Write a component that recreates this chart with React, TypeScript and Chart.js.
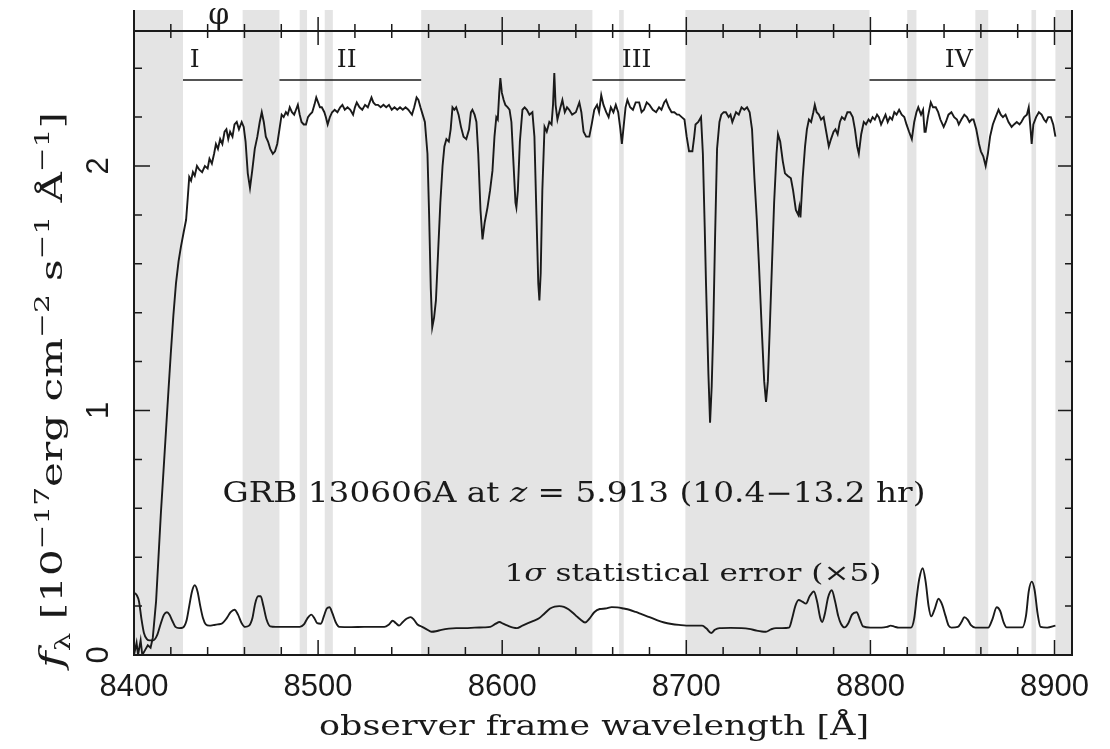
import React, { useEffect, useRef } from 'react';
import { Chart, registerables } from 'chart.js';

Chart.register(...registerables);

// ---- data ----
const fluxWave = [
  8400, 8401.4, 8402.2, 8403.6, 8404.5, 8406, 8407.5, 8409, 8410.2, 8412, 8413.3, 8414.6, 8416, 8417.4, 8418.7,
  8420, 8421.4, 8422.8, 8424.2, 8425.5, 8427, 8428.3, 8429.2, 8430, 8431, 8432, 8433, 8434.2, 8435.5, 8437,
  8438.5, 8440, 8441, 8442.3, 8443.5, 8444.5, 8445.6, 8446.8, 8448, 8449.2, 8450.2, 8451.2, 8452.2, 8453.5,
  8454.6, 8455.8, 8457, 8458.5, 8459.6, 8460.6, 8461.8, 8463, 8464.2, 8465.6, 8467, 8468.3, 8469.4, 8470.5,
  8471.6, 8472.8, 8474, 8475.4, 8476.6, 8477.8, 8479, 8480.2, 8481.3, 8482.5, 8483.5, 8484.6, 8485.8, 8487,
  8488, 8489, 8490, 8491, 8492.2, 8493.4, 8494.5, 8495.5, 8496.8, 8498, 8499, 8500, 8501, 8502, 8503.4,
  8504.2, 8505.2, 8506.4, 8507.6, 8509, 8510.5, 8512, 8513.2, 8514.5, 8516, 8517.5, 8519, 8520, 8521, 8522.5,
  8524, 8525.5, 8527, 8528, 8529, 8530, 8531.2, 8532.5, 8534, 8535.5, 8537, 8538.5, 8540, 8541.5, 8543,
  8544.5, 8546, 8547.5, 8549, 8550, 8551, 8552.2, 8553.5, 8554.5, 8555.6, 8556.8, 8558, 8559.4, 8560.3,
  8561.2, 8562, 8563, 8564, 8565.2, 8566.4, 8567.6, 8568.6, 8569.7, 8571, 8572, 8573, 8574, 8575, 8576.3,
  8577.6, 8579, 8580.5, 8582, 8583, 8583.8, 8585, 8586, 8587, 8588.2, 8589.3, 8590.5, 8592, 8593.4, 8594.7,
  8595.8, 8596.8, 8597.6, 8598.4, 8599, 8599.8, 8600.8, 8601.7, 8603, 8604, 8605, 8606.2, 8607.2, 8607.7,
  8608.5, 8609.6, 8611, 8612.2, 8613.4, 8614.8, 8616.4, 8617.5, 8618.6, 8619.6, 8620.2, 8620.9, 8621.8, 8623,
  8624.2, 8625.6, 8626.8, 8627.6, 8628.3, 8629, 8630, 8631.3, 8632.7, 8634, 8635.2, 8636.4, 8638, 8640,
  8641.9, 8643, 8644.2, 8645.6, 8647.3, 8648.6, 8650, 8651.5, 8652.6, 8653.8, 8655, 8656.5, 8657.8, 8659,
  8660.4, 8661.7, 8663, 8664.2, 8665, 8665.8, 8667, 8668, 8669.5, 8671, 8672.5, 8674.4, 8675.7, 8677,
  8678.5, 8680, 8681.8, 8683.6, 8685.2, 8686.5, 8688, 8689, 8690.5, 8692, 8693.5, 8695, 8696, 8697.5, 8699,
  8700.2, 8701.5, 8703.3, 8704.3, 8705, 8706.5, 8708, 8709, 8710, 8710.7, 8712, 8712.9, 8713.8, 8714.6,
  8715.6, 8716.7, 8718, 8719, 8720.3, 8721.5, 8723, 8724, 8725, 8726, 8727, 8728.5, 8730, 8731.5, 8733,
  8734.4, 8735.7, 8737, 8738.3, 8739.5, 8741, 8742.3, 8743.3, 8744.3, 8745.4, 8746.5, 8747.7, 8749, 8749.8,
  8751, 8752.4, 8753.6, 8755, 8756.8, 8758, 8759.5, 8760.8, 8761.4, 8762, 8763.2, 8764.5, 8765.5, 8766.6,
  8767.8, 8769, 8769.8, 8770.8, 8772, 8773.2, 8774.6, 8776, 8777.4, 8778.6, 8780, 8781, 8782.2, 8783.4,
  8784.5, 8786, 8787.5, 8789, 8790.4, 8791.6, 8792.8, 8793.7, 8795, 8796.4, 8797.6, 8799, 8800, 8801.2,
  8802.4, 8803.6, 8804.6, 8805.8, 8807, 8808.2, 8809.4, 8810.6, 8811.8, 8813, 8814.2, 8815.6, 8817, 8818.4,
  8819.6, 8821, 8822.5, 8823.8, 8825, 8826, 8827.5, 8828.6, 8829.4, 8830, 8831.2, 8832.8, 8834, 8835.5,
  8836.8, 8838, 8839.8, 8841, 8842.4, 8844, 8845.5, 8847, 8848, 8849.4, 8851, 8852.4, 8853.8, 8855, 8856,
  8857.5, 8859, 8860, 8861.3, 8862.6, 8863.8, 8865, 8866.5, 8868, 8869.6, 8870.8, 8872, 8873.4, 8875, 8876.7,
  8878, 8879.5, 8881, 8882, 8883.5, 8885, 8886, 8887, 8887.6, 8888.5, 8890, 8891.5, 8893, 8894.3, 8895.4,
  8896.6, 8898, 8899.3, 8900.5,
];
const fluxVal = [
  0.0, 0.05, 0.0, 0.06, 0.0, 0.02, 0.04, 0.03, 0.07, 0.22, 0.4, 0.58, 0.75, 0.92, 1.08,
  1.235, 1.39, 1.52, 1.61, 1.67, 1.73, 1.78, 1.87, 1.955, 1.94, 1.975, 1.96, 2.0, 1.985, 1.975,
  2.0, 1.99, 2.03, 2.01, 2.05, 2.09, 2.07, 2.11, 2.09, 2.14, 2.15, 2.11, 2.14, 2.12,
  2.17, 2.18, 2.15, 2.18, 2.16, 2.1, 1.97, 1.91, 1.98, 2.07, 2.12, 2.18, 2.22, 2.18,
  2.12, 2.1, 2.07, 2.05, 2.06, 2.09, 2.15, 2.21, 2.2, 2.22, 2.21, 2.24, 2.22, 2.21,
  2.23, 2.25, 2.21, 2.18, 2.17, 2.17, 2.2, 2.21, 2.22, 2.25, 2.28, 2.26, 2.24, 2.24, 2.22,
  2.2, 2.17, 2.2, 2.22, 2.23, 2.22, 2.24, 2.25, 2.23, 2.24, 2.23, 2.21, 2.24, 2.26, 2.24,
  2.23, 2.25, 2.24, 2.26, 2.28, 2.26, 2.25, 2.25, 2.24, 2.25, 2.24, 2.25, 2.23, 2.24, 2.23,
  2.24, 2.23, 2.24, 2.23, 2.22, 2.21, 2.24, 2.28, 2.27, 2.24, 2.21, 2.18, 2.05, 1.8,
  1.5, 1.34, 1.38, 1.45, 1.65, 1.85, 2.0, 2.08, 2.11, 2.1, 2.15, 2.24, 2.23, 2.24, 2.21,
  2.16, 2.12, 2.11, 2.15, 2.22, 2.23, 2.21, 2.18, 2.05, 1.82, 1.7, 1.77, 1.83, 1.9, 1.98,
  2.12, 2.2, 2.19, 2.3, 2.36, 2.3, 2.27, 2.25, 2.24, 2.23, 2.18, 2.0, 1.85, 1.83,
  1.9, 2.1, 2.23, 2.24, 2.23, 2.21, 2.22, 2.12, 1.8, 1.52, 1.45, 1.56, 1.9, 2.16,
  2.14, 2.18, 2.17, 2.25, 2.38, 2.25, 2.19, 2.23, 2.27, 2.22, 2.24, 2.23, 2.21, 2.22,
  2.26, 2.22, 2.14, 2.12, 2.12, 2.17, 2.23, 2.25, 2.22, 2.29, 2.25, 2.22, 2.2, 2.24,
  2.22, 2.25, 2.22, 2.15, 2.09, 2.15, 2.24, 2.27, 2.24, 2.23, 2.26, 2.26, 2.22, 2.23,
  2.26, 2.25, 2.23, 2.22, 2.24, 2.23, 2.26, 2.27, 2.24, 2.22, 2.22, 2.21, 2.21, 2.2, 2.19,
  2.12, 2.06, 2.06, 2.12, 2.17, 2.18, 2.2, 2.05, 1.75, 1.52, 1.15, 0.95, 1.1, 1.32,
  1.7, 2.07, 2.18, 2.21, 2.22, 2.22, 2.2, 2.21, 2.18, 2.2, 2.22, 2.21, 2.24, 2.23, 2.24,
  2.22, 2.15, 1.95, 1.78, 1.59, 1.33, 1.12, 1.035, 1.12, 1.35, 1.59, 1.85, 2.05, 2.13,
  2.1, 2.02, 1.97, 1.96, 1.95, 1.9, 1.82, 1.8, 1.83, 1.79, 1.95, 2.08, 2.15, 2.19,
  2.18, 2.22, 2.25, 2.22, 2.21, 2.19, 2.2, 2.14, 2.08, 2.11, 2.14, 2.15, 2.13, 2.18,
  2.2, 2.19, 2.22, 2.22, 2.2, 2.15, 2.08, 2.05, 2.13, 2.18, 2.17, 2.19, 2.18, 2.2,
  2.19, 2.21, 2.2, 2.17, 2.19, 2.21, 2.18, 2.2, 2.19, 2.22, 2.21, 2.23, 2.21, 2.2,
  2.17, 2.14, 2.11, 2.18, 2.22, 2.24, 2.21, 2.23, 2.14, 2.14, 2.2, 2.26, 2.24, 2.24,
  2.22, 2.19, 2.16, 2.18, 2.21, 2.22, 2.2, 2.19, 2.17, 2.19, 2.21, 2.2, 2.18, 2.19, 2.19,
  2.15, 2.09, 2.06, 2.04, 2.0, 2.05, 2.12, 2.17, 2.2, 2.23, 2.21, 2.2, 2.21, 2.18, 2.16,
  2.17, 2.18, 2.17, 2.18, 2.2, 2.21, 2.24, 2.15, 2.09, 2.17, 2.2, 2.22, 2.21, 2.19, 2.18,
  2.2, 2.2, 2.17, 2.12,
];
const errWave = [
  8400, 8401.5, 8402.7, 8404, 8405.4, 8407, 8408.5, 8410.5, 8412.5, 8414.6, 8416.3, 8417.9, 8419.3, 8420.8,
  8422.5, 8424.5, 8426.5, 8428.5, 8430, 8431.5, 8433, 8434.5, 8436, 8437.5, 8439, 8441, 8443, 8445.5, 8448,
  8450.3, 8452.5, 8454.6, 8456.5, 8458.5, 8460.3, 8462.5, 8464.3, 8465.8, 8467.4, 8468.8, 8470.3, 8472, 8474,
  8477, 8480, 8485, 8490, 8492.3, 8494.2, 8496.3, 8498, 8499.5, 8501.5, 8503.2, 8504.7, 8506.2, 8507.8,
  8509.5, 8511.5, 8518, 8525, 8531, 8536, 8538.5, 8540.5, 8542.3, 8544, 8546, 8548, 8550.2, 8552, 8554,
  8556.5, 8559, 8561.6, 8564, 8567, 8571, 8575, 8580, 8585, 8590, 8593.5, 8596.5, 8598.5, 8600.5, 8603,
  8606, 8608, 8611, 8614, 8617, 8620, 8623, 8626, 8628.5, 8631, 8633.5, 8636, 8638.5, 8640.5, 8642.5, 8645,
  8647.5, 8650, 8653, 8656, 8659.5, 8662.5, 8666, 8669, 8672.5, 8676, 8680, 8684, 8688, 8692, 8696, 8700,
  8704, 8708.6, 8711, 8713.5, 8715.5, 8718, 8724, 8730, 8734, 8738, 8741, 8743.2, 8746, 8748.7, 8752,
  8755.8, 8757.5, 8759.2, 8761, 8763, 8765, 8767, 8769.3, 8771, 8772.8, 8773.8, 8775.3, 8777, 8779, 8780.8,
  8782.5, 8784, 8786, 8788, 8790, 8792.5, 8794.3, 8796, 8800, 8806, 8809, 8811, 8813, 8815.4, 8822, 8823.8,
  8825.2, 8826.5, 8828.4, 8830, 8831.6, 8833, 8835, 8837, 8839, 8840.8, 8842.5, 8844, 8847.5, 8849.5, 8851,
  8852.8, 8854.6, 8857, 8864, 8866.2, 8868.6, 8870.5, 8872.3, 8874, 8882.5, 8884.5, 8886, 8887.6, 8889.2,
  8890.8, 8892.4, 8896, 8900.5,
];
const errVal = [
  0.255, 0.245, 0.22, 0.15, 0.09, 0.065, 0.06, 0.06, 0.08, 0.13, 0.165, 0.175, 0.165, 0.14,
  0.115, 0.11, 0.112, 0.14, 0.2, 0.26, 0.285, 0.26, 0.2, 0.15, 0.125, 0.12, 0.122, 0.125, 0.13,
  0.15, 0.175, 0.185, 0.165, 0.13, 0.115, 0.12, 0.15, 0.21, 0.24, 0.24, 0.2, 0.145, 0.117,
  0.115, 0.115, 0.115, 0.115, 0.125, 0.15, 0.165, 0.15, 0.13, 0.128, 0.16, 0.19, 0.195, 0.17,
  0.135, 0.115, 0.114, 0.115, 0.115, 0.115, 0.125, 0.14, 0.13, 0.12, 0.135, 0.148, 0.155, 0.145, 0.125,
  0.115, 0.105, 0.095, 0.097, 0.103, 0.108, 0.11, 0.11, 0.112, 0.113, 0.115, 0.128, 0.135, 0.128, 0.12,
  0.112, 0.11, 0.12, 0.13, 0.14, 0.15, 0.17, 0.19, 0.198, 0.2, 0.197, 0.187, 0.172, 0.158, 0.145, 0.133,
  0.15, 0.175, 0.188, 0.19, 0.196, 0.195, 0.19, 0.185, 0.176, 0.166, 0.155, 0.143, 0.133, 0.127, 0.123, 0.12,
  0.12, 0.12, 0.108, 0.09, 0.103, 0.11, 0.111, 0.11, 0.107, 0.1, 0.096, 0.095, 0.105, 0.11, 0.11,
  0.112, 0.15, 0.2, 0.225, 0.218, 0.21, 0.24, 0.26, 0.22, 0.15, 0.135, 0.17, 0.235, 0.265, 0.22,
  0.16, 0.128, 0.113, 0.13, 0.165, 0.175, 0.145, 0.117, 0.112, 0.112, 0.115, 0.12, 0.116, 0.112, 0.112, 0.15,
  0.24, 0.31, 0.355, 0.3, 0.2, 0.158, 0.19, 0.23, 0.205, 0.16, 0.12, 0.112, 0.115, 0.135, 0.155,
  0.145, 0.122, 0.112, 0.112, 0.145, 0.195, 0.18, 0.135, 0.113, 0.113, 0.16, 0.26, 0.3, 0.265,
  0.17, 0.115, 0.112, 0.12,
];

const xTickLabels = [8400, 8500, 8600, 8700, 8800, 8900];
const yTickLabels = [0, 1, 2];
const maskStart = [8400, 8459, 8490, 8503.6, 8556, 8663.5, 8699.5, 8820, 8857, 8887.5, 8900.5];
const maskEnd = [8426.6, 8479, 8494, 8508, 8649, 8666, 8799.5, 8825, 8864, 8890, 8910];
const regionNames = ['I', 'II', 'III', 'IV'];
const regionStart = [8426.6, 8479, 8649, 8799.5];
const regionEnd = [8459, 8556, 8699.5, 8900.5];
const regionLabelAt = [8433, 8515.5, 8673, 8848];
const phiAt = 8446;
const topLineLevel = 2.552;
const regionLineLevel = 2.352;
const annotation = 'GRB 130606A at ';
const annotationZ = 'z';
const annotationRest = ' = 5.913 (10.4\u221213.2 hr)';
const errorLabel1 = '1';
const errorLabelSigma = '\u03c3';
const errorLabelRest = ' statistical error (\u00d75)';
const xTitle = 'observer frame wavelength [\u00c5]';

const SERIF = '"DejaVu Serif", serif';
const SANS = '"Liberation Sans", Arial, sans-serif';

type Seg = { t: string; f: string; dy?: number };

function drawRich(ctx: CanvasRenderingContext2D, segs: Seg[], x: number, y: number, width?: number) {
  let total = 0;
  const ws = segs.map((s) => {
    ctx.font = s.f;
    const w = ctx.measureText(s.t).width;
    total += w;
    return w;
  });
  const sx = width ? width / total : 1;
  ctx.save();
  ctx.translate(x, y);
  ctx.scale(sx, 1);
  ctx.textAlign = 'left';
  ctx.textBaseline = 'alphabetic';
  let cx = -total / 2;
  segs.forEach((s, i) => {
    ctx.font = s.f;
    ctx.fillText(s.t, cx, s.dy || 0);
    cx += ws[i];
  });
  ctx.restore();
}

const decor = {
  id: 'decor',
  beforeDatasetsDraw(chart: any) {
    const { ctx, chartArea, scales } = chart;
    const { left, right, top, bottom } = chartArea;
    const x = scales.x;
    ctx.save();
    ctx.fillStyle = '#e4e4e4';
    for (let i = 0; i < maskStart.length; i++) {
      const a = Math.max(left, x.getPixelForValue(maskStart[i]));
      const b = Math.min(right, x.getPixelForValue(maskEnd[i]));
      if (b > a) ctx.fillRect(a, top, b - a, bottom - top);
    }
    ctx.restore();
  },
  afterDatasetsDraw(chart: any) {
    const { ctx, chartArea, scales } = chart;
    const { left, right, top, bottom } = chartArea;
    const x = scales.x;
    const y = scales.y;
    ctx.save();
    ctx.strokeStyle = '#1a1a1a';
    ctx.fillStyle = '#1a1a1a';
    ctx.lineWidth = 2;
    ctx.lineCap = 'butt';

    // frame (left, right, bottom)
    ctx.beginPath();
    ctx.moveTo(left, top);
    ctx.lineTo(left, bottom);
    ctx.lineTo(right, bottom);
    ctx.lineTo(right, top);
    ctx.stroke();

    // top reference line with ticks
    const ty = y.getPixelForValue(topLineLevel);
    ctx.beginPath();
    ctx.moveTo(left, ty);
    ctx.lineTo(right, ty);
    ctx.stroke();

    ctx.lineWidth = 1.5;
    for (let w = 8400; w <= 8900; w += 20) {
      const px = x.getPixelForValue(w);
      const major = w % 100 === 0;
      const lenB = major ? 15 : 8;
      ctx.beginPath();
      ctx.moveTo(px, bottom);
      ctx.lineTo(px, bottom - lenB);
      ctx.stroke();
      if (w > 8400) {
        const lenT = major ? 14 : 7;
        ctx.beginPath();
        ctx.moveTo(px, ty - lenT);
        ctx.lineTo(px, ty + lenT);
        ctx.stroke();
      }
    }
    for (let k = 1; k <= 12; k++) {
      const v = k * 0.2;
      const py = y.getPixelForValue(v);
      const major = k % 5 === 0;
      ctx.beginPath();
      ctx.moveTo(left, py);
      ctx.lineTo(left + (major ? 16 : 8), py);
      ctx.moveTo(right, py);
      ctx.lineTo(right - (major ? 14 : 7), py);
      ctx.stroke();
    }

    // region bars and labels
    ctx.lineWidth = 1.6;
    const ry = y.getPixelForValue(regionLineLevel);
    ctx.font = '25px ' + SERIF;
    ctx.textAlign = 'center';
    ctx.textBaseline = 'alphabetic';
    for (let i = 0; i < regionNames.length; i++) {
      ctx.beginPath();
      ctx.moveTo(x.getPixelForValue(regionStart[i]), ry);
      ctx.lineTo(x.getPixelForValue(regionEnd[i]), ry);
      ctx.stroke();
      ctx.fillText(regionNames[i], x.getPixelForValue(regionLabelAt[i]), ry - 13);
    }

    // phi marker
    ctx.font = '30px ' + SERIF;
    ctx.fillText('\u03c6', x.getPixelForValue(phiAt), ty - 7);

    // annotations
    drawRich(ctx, [
      { t: annotation, f: '27px ' + SERIF },
      { t: annotationZ, f: 'italic 27px ' + SERIF },
      { t: annotationRest, f: '27px ' + SERIF },
    ], 574, 502, 703);
    drawRich(ctx, [
      { t: errorLabel1, f: '25px ' + SERIF },
      { t: errorLabelSigma, f: 'italic 25px ' + SERIF },
      { t: errorLabelRest, f: '25px ' + SERIF },
    ], 693, 581, 377);

    // x tick labels
    ctx.font = '31px ' + SANS;
    ctx.textAlign = 'center';
    ctx.textBaseline = 'alphabetic';
    xTickLabels.forEach((v) => {
      ctx.fillText(String(v), x.getPixelForValue(v), 696);
    });

    // y tick labels (rotated)
    yTickLabels.forEach((v) => {
      ctx.save();
      ctx.translate(108, y.getPixelForValue(v));
      ctx.rotate(-Math.PI / 2);
      ctx.textAlign = 'center';
      ctx.textBaseline = 'alphabetic';
      ctx.fillText(String(v), 0, 0);
      ctx.restore();
    });

    // x title
    drawRich(ctx, [{ t: xTitle, f: '28px ' + SERIF }], 594, 735, 550);

    // y title (rotated)
    ctx.save();
    ctx.translate(62, 390);
    ctx.rotate(-Math.PI / 2);
    const big = '30px ' + SERIF;
    const sup = '21px ' + SERIF;
    drawRich(ctx, [
      { t: 'f', f: 'italic 32px ' + SERIF },
      { t: '\u03bb', f: '21px ' + SERIF, dy: 8 },
      { t: ' [10', f: big },
      { t: '\u221217', f: sup, dy: -13 },
      { t: 'erg cm', f: big },
      { t: '\u22122', f: sup, dy: -13 },
      { t: ' s', f: big },
      { t: '\u22121', f: sup, dy: -13 },
      { t: ' \u00c5', f: big },
      { t: '\u22121', f: sup, dy: -13 },
      { t: ']', f: big },
    ], 0, 0, 556);
    ctx.restore();

    ctx.restore();
  },
};

export default function App() {
  const ref = useRef<HTMLCanvasElement | null>(null);
  useEffect(() => {
    if (!ref.current) return;
    const chart = new Chart(ref.current, {
      type: 'line',
      data: {
        datasets: [
          {
            label: 'flux',
            data: fluxWave.map((w, i) => ({ x: w, y: fluxVal[i] })),
            borderColor: '#1a1a1a',
            borderWidth: 1.9,
            pointRadius: 0,
            tension: 0,
            fill: false,
          },
          {
            label: 'error x5',
            data: errWave.map((w, i) => ({ x: w, y: errVal[i] })),
            borderColor: '#1a1a1a',
            borderWidth: 1.9,
            pointRadius: 0,
            cubicInterpolationMode: 'monotone',
            fill: false,
          },
        ],
      },
      options: {
        animation: false,
        responsive: false,
        maintainAspectRatio: false,
        layout: { padding: { left: 134, right: 38, top: 10, bottom: 94 } },
        plugins: { legend: { display: false }, tooltip: { enabled: false } },
        scales: {
          x: { type: 'linear', min: 8400, max: 8909.5, display: false },
          y: { type: 'linear', min: 0, max: 2.638, display: false },
        },
      },
      plugins: [decor],
    } as any);
    return () => chart.destroy();
  }, []);
  return (
    <div style={{ position: 'fixed', left: 0, top: 0, width: 1110, height: 749, background: '#fff' }}>
      <canvas ref={ref} width={1110} height={749} style={{ width: 1110, height: 749 }} />
    </div>
  );
}
